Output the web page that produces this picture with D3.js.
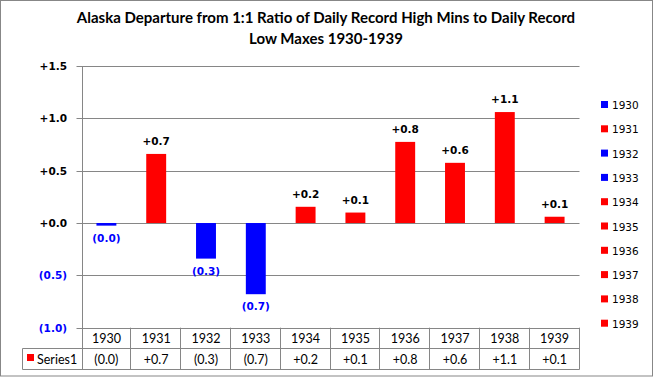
<!DOCTYPE html>
<html>
<head>
<meta charset="utf-8">
<script src="https://cdn.jsdelivr.net/npm/d3@7"></script>
<style>
  body { margin: 0; background: #fff; }
  svg { display: block; }
</style>
</head>
<body>
<div id="chart"></div>
<script>
// chart data
const years = ["1930", "1931", "1932", "1933", "1934", "1935", "1936", "1937", "1938", "1939"];
const values = [-0.025, 0.66, -0.34, -0.68, 0.155, 0.10, 0.775, 0.575, 1.06, 0.06];
const labels = ["(0.0)", "+0.7", "(0.3)", "(0.7)", "+0.2", "+0.1", "+0.8", "+0.6", "+1.1", "+0.1"];
const yTicks = [1.5, 1.0, 0.5, 0.0, -0.5, -1.0];
const yTickLabels = ["+1.5", "+1.0", "+0.5", "+0.0", "(0.5)", "(1.0)"];
const seriesName = "Series1";
const titleLines = ["Alaska Departure from 1:1 Ratio of Daily Record High Mins to Daily Record",
                    "Low Maxes 1930-1939"];

const W = 653, H = 377;
const margin = {top: 66, right: 74, bottom: 49, left: 81.5};
const plotW = 579.5 - margin.left;
const grid = "#868686";
const blue = "#0000ff", red = "#ff0000";

const svg = d3.select("#chart").append("svg")
    .attr("width", W)
    .attr("height", H);

// outer frame
svg.append("rect")
    .attr("x", 0.5).attr("y", 0.5)
    .attr("width", W - 1).attr("height", H - 1.5)
    .attr("fill", "#fff")
    .attr("stroke", "#878787");

// title
svg.append("g").selectAll("text")
    .data(titleLines)
    .join("text")
    .attr("x", 326)
    .attr("y", (d, i) => 23 + i * 21)
    .attr("text-anchor", "middle")
    .style("font-family", "Lato, 'Open Sans', sans-serif")
    .style("font-weight", "bold")
    .style("font-size", "15px")
    .attr("fill", "#000")
    .text(d => d);

const x = d3.scaleBand()
    .domain(years)
    .range([margin.left, margin.left + plotW])
    .paddingInner(0.6)
    .paddingOuter(0.3);

const y = d3.scaleLinear()
    .domain([-1.0, 1.5])
    .range([327.7, 66]);

// gridlines
svg.append("g").selectAll("line")
    .data(yTicks)
    .join("line")
    .attr("x1", margin.left - 5)
    .attr("x2", margin.left + plotW)
    .attr("y1", d => Math.round(y(d)) + 0.5)
    .attr("y2", d => Math.round(y(d)) + 0.5)
    .attr("stroke", grid)
    .attr("stroke-width", 1);

// y axis line
svg.append("line")
    .attr("x1", Math.round(margin.left) + 0.5)
    .attr("x2", Math.round(margin.left) + 0.5)
    .attr("y1", y(1.5))
    .attr("y2", 369.5)
    .attr("stroke", grid);

// y tick labels
svg.append("g").selectAll("text")
    .data(yTicks)
    .join("text")
    .attr("x", 67)
    .attr("y", d => y(d) + 4)
    .attr("text-anchor", "end")
    .style("font-family", "'DejaVu Sans', Verdana, sans-serif")
    .style("font-weight", "bold")
    .style("font-size", "10.5px")
    .attr("fill", (d, i) => values && d < 0 ? blue : "#000")
    .text((d, i) => yTickLabels[i]);

// bars
svg.append("g").selectAll("rect")
    .data(values)
    .join("rect")
    .attr("x", (d, i) => x(years[i]))
    .attr("width", x.bandwidth())
    .attr("y", d => y(Math.max(0, d)))
    .attr("height", d => Math.abs(y(d) - y(0)))
    .attr("fill", d => d < 0 ? blue : red);

// data labels
svg.append("g").selectAll("text")
    .data(values)
    .join("text")
    .attr("x", (d, i) => x(years[i]) + x.bandwidth() / 2)
    .attr("y", d => d < 0 ? y(d) + 16 : y(d) - 9)
    .attr("text-anchor", "middle")
    .style("font-family", "'DejaVu Sans', Verdana, sans-serif")
    .style("font-weight", "bold")
    .style("font-size", "10.5px")
    .attr("fill", d => d < 0 ? blue : "#000")
    .text((d, i) => labels[i]);

// data table
const rowTop = y(-1.0), rowMid = 347.7, rowBot = 369.3;
const step = plotW / years.length;
const table = svg.append("g")
    .attr("stroke", grid)
    .attr("fill", "none");

table.append("line")
    .attr("x1", 22.5).attr("x2", margin.left + plotW)
    .attr("y1", Math.round(rowMid) + 0.5).attr("y2", Math.round(rowMid) + 0.5);
table.append("line")
    .attr("x1", 22.5).attr("x2", margin.left + plotW)
    .attr("y1", Math.round(rowBot) + 0.5).attr("y2", Math.round(rowBot) + 0.5);
table.append("line")
    .attr("x1", 22.5).attr("x2", 22.5)
    .attr("y1", Math.round(rowMid) + 0.5).attr("y2", Math.round(rowBot) + 0.5);
table.selectAll("line.col")
    .data(d3.range(1, years.length + 1))
    .join("line")
    .attr("class", "col")
    .attr("x1", i => Math.round(margin.left + i * step) - 0.5)
    .attr("x2", i => Math.round(margin.left + i * step) - 0.5)
    .attr("y1", rowTop)
    .attr("y2", Math.round(rowBot) + 0.5);

const tableFont = "Lato, 'Open Sans', sans-serif";
svg.append("g").selectAll("text")
    .data(years)
    .join("text")
    .attr("x", (d, i) => margin.left + (i + 0.5) * step)
    .attr("y", 343)
    .attr("text-anchor", "middle")
    .style("font-family", tableFont)
    .style("font-size", "12.5px")
    .attr("fill", "#000")
    .text(d => d);

svg.append("g").selectAll("text")
    .data(labels)
    .join("text")
    .attr("x", (d, i) => margin.left + (i + 0.5) * step)
    .attr("y", 364)
    .attr("text-anchor", "middle")
    .style("font-family", tableFont)
    .style("font-size", "12.5px")
    .attr("fill", "#000")
    .text(d => d);

svg.append("rect")
    .attr("x", 27).attr("y", 354)
    .attr("width", 7).attr("height", 7)
    .attr("fill", red);
svg.append("text")
    .attr("x", 37).attr("y", 364)
    .style("font-family", tableFont)
    .style("font-size", "12.5px")
    .attr("fill", "#000")
    .text(seriesName);

// legend
const legend = svg.append("g").selectAll("g")
    .data(years)
    .join("g")
    .attr("transform", (d, i) => `translate(601, ${101 + i * 24.3})`);
legend.append("rect")
    .attr("width", 7).attr("height", 7)
    .attr("fill", (d, i) => values[i] < 0 ? blue : red);
legend.append("text")
    .attr("x", 11).attr("y", 8)
    .style("font-family", "'DejaVu Sans', Verdana, sans-serif")
    .style("font-size", "10.5px")
    .attr("fill", "#000")
    .text(d => d);
</script>
</body>
</html>
